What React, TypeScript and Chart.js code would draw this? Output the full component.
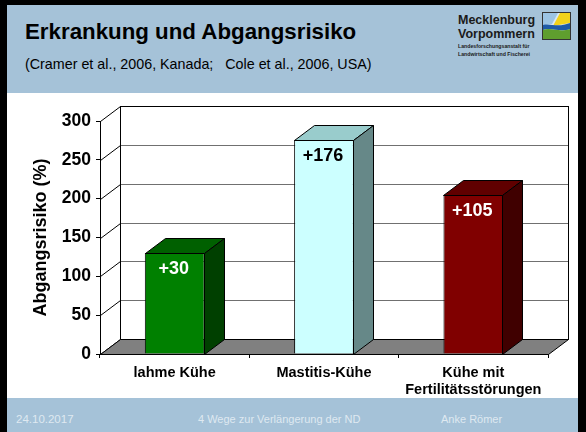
import React, { useEffect, useRef } from "react";
import { Chart, registerables } from "chart.js";

Chart.register(...registerables);

const categories: (string | string[])[] = ["lahme Kühe", "Mastitis-Kühe", ["Kühe mit", "Fertilitätsstörungen"]];
const riskValues = [130, 276, 205];
const increaseLabels = ["+30", "+176", "+105"];
const yTicks = [0, 50, 100, 150, 200, 250, 300];
const frontColors = ["#008000", "#ccffff", "#800000"];
const topColors = ["#006000", "#99cccc", "#600000"];
const sideColors = ["#004000", "#668888", "#400000"];
const labelColors = ["#ffffff", "#000000", "#ffffff"];

const FONT = '"Liberation Sans", Arial, sans-serif';
const DX = 20;
const DY = 15;
const HEADER_BG = "#a5c2d8";

const depthPlugin = {
  id: "depth3d",
  beforeDatasetsDraw(chart: any) {
    const { ctx, chartArea, scales } = chart;
    const { left, right, top, bottom } = chartArea;
    const y = scales.y;
    const L = Math.round(left) + 0.5;
    const R = Math.round(right) + 0.5;
    const B = Math.round(bottom) + 0.5;
    const T = Math.round(top) + 0.5;
    ctx.save();
    ctx.lineWidth = 1;
    // back wall gridlines
    ctx.strokeStyle = "#707070";
    yTicks.forEach((v, i) => {
      if (i === 0 || i === yTicks.length - 1) return;
      const py = Math.round(y.getPixelForValue(v)) + 0.5 - DY;
      ctx.beginPath();
      ctx.moveTo(L + DX, py);
      ctx.lineTo(R + DX, py);
      ctx.stroke();
    });
    // back wall outline
    ctx.strokeStyle = "#000";
    ctx.strokeRect(L + DX, T - DY, R - L, B - T);
    // left wall diagonals
    yTicks.forEach((v) => {
      const py = Math.round(y.getPixelForValue(v)) + 0.5;
      ctx.beginPath();
      ctx.moveTo(L, py);
      ctx.lineTo(L + DX, py - DY);
      ctx.stroke();
    });
    // floor
    ctx.beginPath();
    ctx.moveTo(L, B);
    ctx.lineTo(R, B);
    ctx.lineTo(R + DX, B - DY);
    ctx.lineTo(L + DX, B - DY);
    ctx.closePath();
    ctx.fillStyle = "#808080";
    ctx.fill();
    ctx.stroke();
    ctx.restore();
  },
  afterDatasetsDraw(chart: any) {
    const { ctx } = chart;
    const meta = chart.getDatasetMeta(0);
    ctx.save();
    ctx.lineWidth = 1;
    ctx.strokeStyle = "#000";
    meta.data.forEach((bar: any, i: number) => {
      const p = bar.getProps(["x", "y", "base", "width"], true);
      const x1 = Math.round(p.x - p.width / 2) + 0.5;
      const x2 = Math.round(p.x + p.width / 2) - 0.5;
      const yt = Math.round(p.y) + 0.5;
      const yb = Math.round(p.base) + 0.5;
      // top face
      ctx.beginPath();
      ctx.moveTo(x1, yt);
      ctx.lineTo(x2, yt);
      ctx.lineTo(x2 + DX, yt - DY);
      ctx.lineTo(x1 + DX, yt - DY);
      ctx.closePath();
      ctx.fillStyle = topColors[i];
      ctx.fill();
      ctx.stroke();
      // side face
      ctx.beginPath();
      ctx.moveTo(x2, yt);
      ctx.lineTo(x2 + DX, yt - DY);
      ctx.lineTo(x2 + DX, yb - DY);
      ctx.lineTo(x2, yb);
      ctx.closePath();
      ctx.fillStyle = sideColors[i];
      ctx.fill();
      ctx.stroke();
      // value label
      ctx.fillStyle = labelColors[i];
      ctx.font = `bold 18px ${FONT}`;
      ctx.textAlign = "center";
      ctx.textBaseline = "middle";
      ctx.fillText(increaseLabels[i], p.x - 1, p.y + 16);
    });
    ctx.restore();
  },
};

function BarChart() {
  const ref = useRef<HTMLCanvasElement | null>(null);
  useEffect(() => {
    if (!ref.current) return;
    Chart.defaults.font.family = FONT;
    const chart = new Chart(ref.current, {
      type: "bar",
      data: {
        labels: categories,
        datasets: [
          {
            data: riskValues,
            backgroundColor: frontColors,
            borderColor: "#000",
            borderWidth: 1,
            categoryPercentage: 1,
            barPercentage: 0.4,
          },
        ],
      },
      options: {
        responsive: false,
        animation: false,
        layout: { padding: { top: 28, right: 30, left: 0, bottom: 0 } },
        plugins: { legend: { display: false }, tooltip: { enabled: false } },
        scales: {
          x: {
            grid: { drawOnChartArea: false, tickLength: 4, color: "#000", offset: true },
            border: { color: "#000" },
            ticks: {
              font: { size: 14.5, weight: "bold" },
              color: "#000",
              padding: 6,
              maxRotation: 0,
              autoSkip: false,
            },
            afterFit: (s: any) => {
              s.height = 44;
            },
          },
          y: {
            min: yTicks[0],
            max: yTicks[yTicks.length - 1],
            ticks: {
              stepSize: yTicks[1] - yTicks[0],
              font: { size: 17.5, weight: "bold" },
              color: "#000",
              padding: 5,
            },
            grid: { drawOnChartArea: false, tickLength: 4, color: "#000" },
            border: { color: "#000" },
            title: {
              display: true,
              text: "Abgangsrisiko (%)",
              font: { size: 18, weight: "bold" },
              color: "#000",
              padding: { top: 23, bottom: 0 },
            },
            afterFit: (s: any) => {
              s.width = 93;
            },
          },
        },
      } as any,
      plugins: [depthPlugin],
    });
    return () => chart.destroy();
  }, []);
  return <canvas ref={ref} width={571} height={305} style={{ display: "block" }} />;
}

function Logo() {
  return (
    <svg width={29} height={28} viewBox="0 0 29 28" style={{ position: "absolute", left: 542, top: 12 }}>
      <rect x={0.5} y={0.5} width={28} height={27} fill="#d8e8f4" stroke="#333" />
      <polygon points="1,1 16,1 10,12 1,13" fill="#9cc4e4" />
      <polygon points="18,1 28,1 28,11 11,14" fill="#f2d21a" />
      <path d="M1,13 C8,11 16,16 28,11 L28,17 C18,21 9,15 1,18 Z" fill="#1e5aa8" />
      <path d="M1,18 C9,15 18,21 28,17 L28,27 L1,27 Z" fill="#5f9e2e" />
    </svg>
  );
}

export default function App() {
  const text = (style: React.CSSProperties, content: string) => (
    <div style={{ position: "absolute", lineHeight: 1, whiteSpace: "pre", fontFamily: FONT, ...style }}>{content}</div>
  );
  return (
    <div style={{ position: "fixed", left: 0, top: 0, width: 586, height: 432, background: "#000", overflow: "hidden" }}>
      <div style={{ position: "absolute", left: 7, top: 5, width: 571, height: 88, background: HEADER_BG }} />
      <div style={{ position: "absolute", left: 7, top: 93, width: 571, height: 305, background: "#fff" }}>
        <BarChart />
      </div>
      <div style={{ position: "absolute", left: 7, top: 398, width: 571, height: 34, background: HEADER_BG }} />
      {text({ left: 25, top: 21, fontSize: 22.3, fontWeight: "bold", color: "#000" }, "Erkrankung und Abgangsrisiko")}
      {text({ left: 25, top: 57, fontSize: 14.3, color: "#000" }, "(Cramer et al., 2006, Kanada;   Cole et al., 2006, USA)")}
      {text({ left: 458, top: 13.5, fontSize: 12.5, fontWeight: "bold", color: "#1a1a1a" }, "Mecklenburg")}
      {text({ left: 458, top: 27.5, fontSize: 12.5, fontWeight: "bold", color: "#1a1a1a" }, "Vorpommern")}
      {text({ left: 458, top: 44, fontSize: 5.2, fontWeight: "bold", color: "#1a1a1a" }, "Landesforschungsanstalt für")}
      {text({ left: 458, top: 51.5, fontSize: 5.2, fontWeight: "bold", color: "#1a1a1a" }, "Landwirtschaft und Fischerei")}
      <Logo />
      {text({ left: 16, top: 414, fontSize: 11.5, color: "#dfe9f1" }, "24.10.2017")}
      {text({ left: 198, top: 414, fontSize: 11, color: "#dfe9f1" }, "4 Wege zur Verlängerung der ND")}
      {text({ left: 441, top: 414, fontSize: 11, color: "#dfe9f1" }, "Anke Römer")}
    </div>
  );
}
